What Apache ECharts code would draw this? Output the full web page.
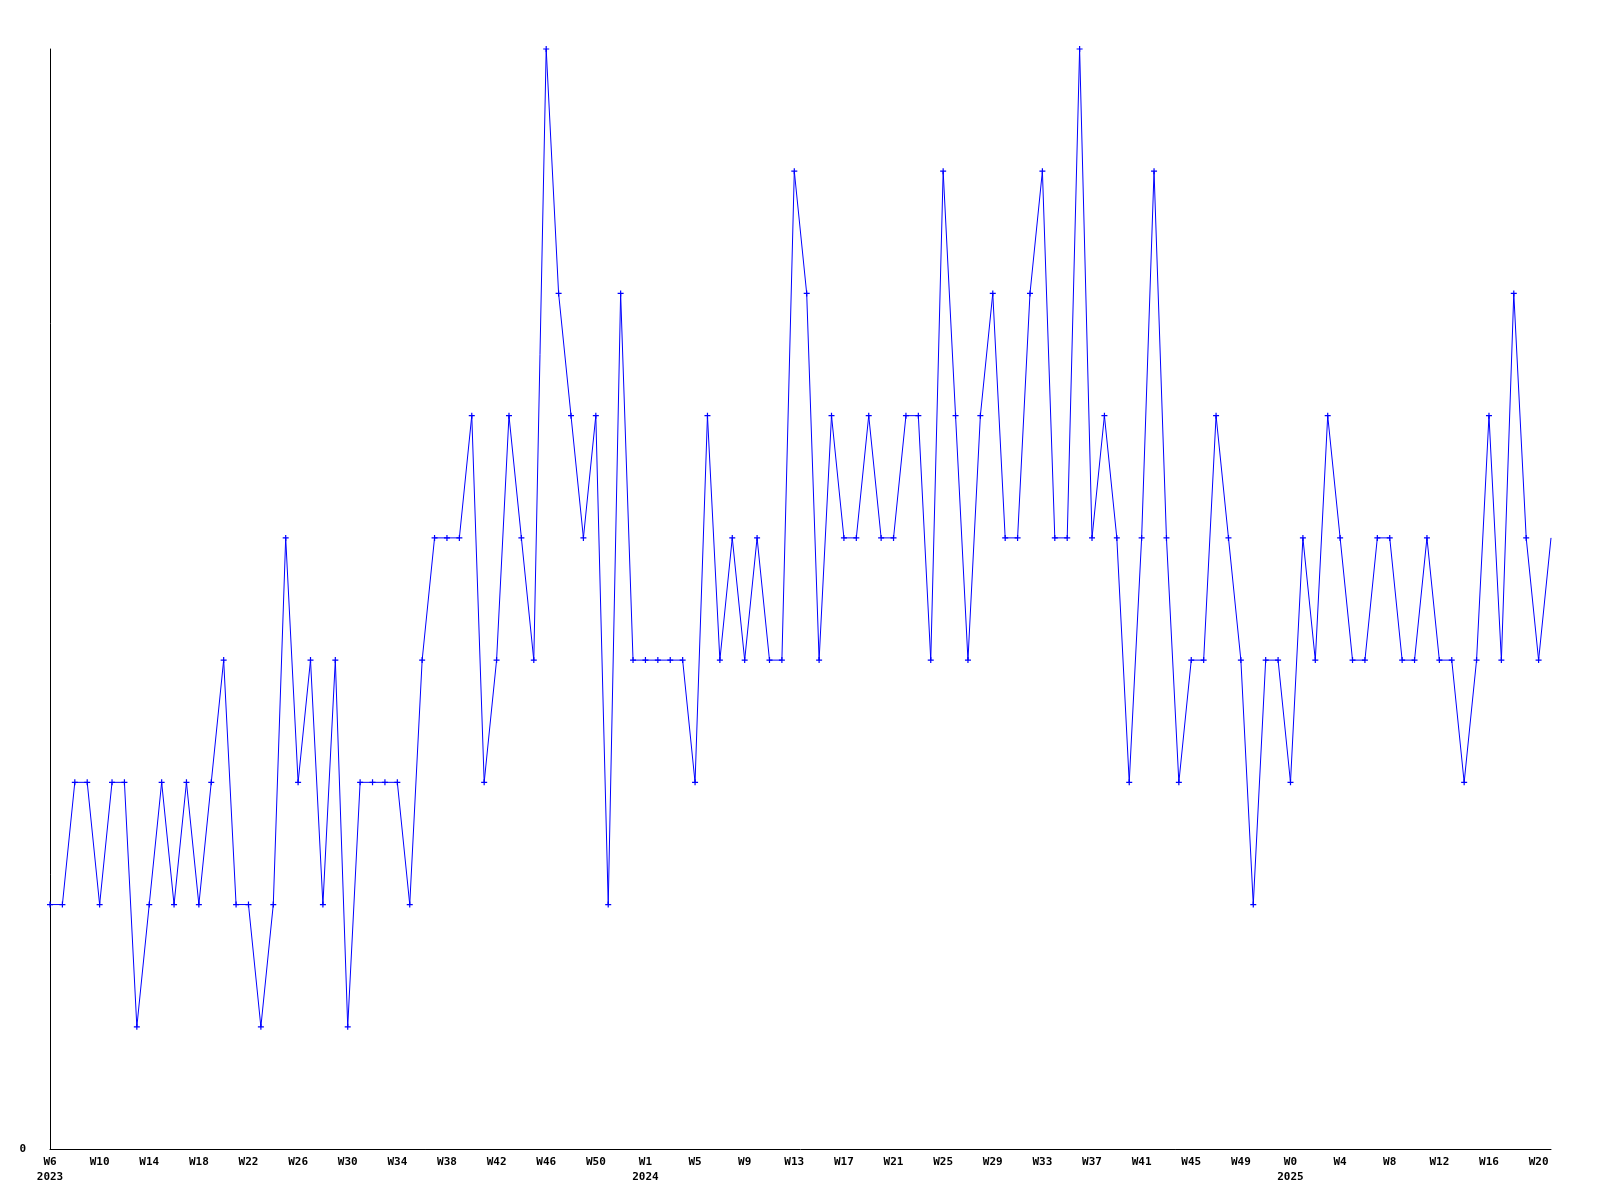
<!DOCTYPE html>
<html>
<head>
<meta charset="utf-8">
<script src="https://cdn.jsdelivr.net/npm/echarts@6/dist/echarts.min.js"></script>
<style>
html,body{margin:0;padding:0;background:#fff;}
#chart{width:1600px;height:1200px;}
</style>
</head>
<body>
<div id="chart"></div>
<script>
const weeks2023 = ['W6','W7','W8','W9','W10','W11','W12','W13','W14','W15','W16','W17','W18','W19','W20','W21','W22','W23','W24','W25','W26','W27','W28','W29','W30','W31','W32','W33','W34','W35','W36','W37','W38','W39','W40','W41','W42','W43','W44','W45','W46','W47','W48','W49','W50','W51','W52','W53'];
const weeks2024 = ['W1','W2','W3','W4','W5','W6','W7','W8','W9','W10','W11','W12','W13','W14','W15','W16','W17','W18','W19','W20','W21','W22','W23','W24','W25','W26','W27','W28','W29','W30','W31','W32','W33','W34','W35','W36','W37','W38','W39','W40','W41','W42','W43','W44','W45','W46','W47','W48','W49','W50','W51','W52'];
const weeks2025 = ['W0','W1','W2','W3','W4','W5','W6','W7','W8','W9','W10','W11','W12','W13','W14','W15','W16','W17','W18','W19','W20','W21'];
const years = ['2023','2024','2025'];

const values = [
  2,2,3,3,2,3,3,1,2,3,
  2,3,2,3,4,2,2,1,2,5,
  3,4,2,4,1,3,3,3,3,2,
  4,5,5,5,6,3,4,6,5,4,
  9,7,6,5,6,2,7,4,4,4,
  4,4,3,6,4,5,4,5,4,4,
  8,7,4,6,5,5,6,5,5,6,
  6,4,8,6,4,6,7,5,5,7,
  8,5,5,9,5,6,5,3,5,8,
  5,3,4,4,6,5,4,2,4,4,
  3,5,4,6,5,4,4,5,5,4,
  4,5,4,4,3,4,6,4,7,5,
  4,5
];

// build categories: first week of each year carries the year on a second line
const categories = [];
[weeks2023, weeks2024, weeks2025].forEach((wk, yi) => {
  wk.forEach((w, k) => categories.push(k === 0 ? w + '\n' + years[yi] : w));
});

const chart = echarts.init(document.getElementById('chart'), null, {renderer: 'canvas'});
const font = 'DejaVu Sans Mono';
chart.setOption({
  animation: false,
  backgroundColor: '#ffffff',
  grid: {left: 50, right: 49, top: 49, bottom: 51, containLabel: false},
  xAxis: {
    type: 'category',
    data: categories,
    boundaryGap: false,
    axisLine: {show: true, lineStyle: {color: '#000', width: 1}},
    axisTick: {show: false},
    splitLine: {show: false},
    axisLabel: {
      interval: (i) => i % 4 === 0,
      hideOverlap: false,
      color: '#000',
      fontFamily: font,
      fontWeight: 'bold',
      fontSize: 11,
      lineHeight: 15,
      margin: 6
    }
  },
  yAxis: {
    type: 'value',
    min: 0,
    max: 9,
    interval: 9,
    axisLine: {show: true, lineStyle: {color: '#000', width: 1}},
    axisTick: {show: false},
    splitLine: {show: false},
    axisLabel: {
      color: '#000',
      fontFamily: font,
      fontWeight: 'bold',
      fontSize: 11,
      margin: 24,
      formatter: v => (v === 0 ? '0' : '')
    }
  },
  series: [{
    type: 'line',
    data: values.map((v, i) => i === values.length - 1 ? {value: v, symbol: 'none'} : v),
    symbol: 'path://M2,0h1v2h2v1h-2v2h-1v-2h-2v-1h2z',
    symbolSize: 6,
    showAllSymbol: true,
    lineStyle: {color: '#0000ff', width: 1},
    itemStyle: {color: '#0000ff'},
    emphasis: {disabled: true}
  }]
});
</script>
</body>
</html>
